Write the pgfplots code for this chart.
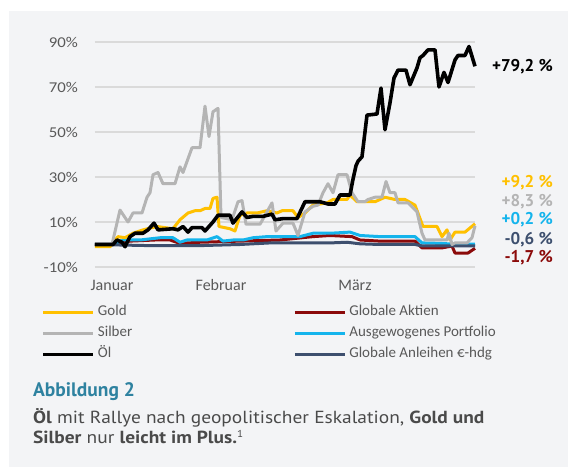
\documentclass[border=0pt]{standalone}
\usepackage{pgfplots}
\pgfplotsset{compat=1.18}
\usepackage{fontspec}
\setmainfont{Carlito}
\newfontfamily\tickfont[FakeStretch=1.12]{Carlito}
\newfontfamily\ptsans{PT Sans}
\newfontfamily\ptcap[FakeStretch=1.11]{PT Sans}
\definecolor{panel}{HTML}{F3F4F6}
\definecolor{gridc}{HTML}{DADADA}
\definecolor{tickc}{HTML}{595959}
\definecolor{cgold}{HTML}{FFC000}
\definecolor{csilver}{HTML}{B4B4B4}
\definecolor{caktien}{HTML}{8B0A0A}
\definecolor{cport}{HTML}{14B4EC}
\definecolor{canl}{HTML}{3D4F6E}
\definecolor{ctitle}{HTML}{2E82A0}
\definecolor{ctext}{HTML}{4A4A4A}
\begin{document}
\begin{tikzpicture}
\fill[white] (-95pt,267pt) rectangle (473pt,-203pt);
\fill[panel] (-86pt,256pt) rectangle (473pt,-200pt);
\begin{axis}[
  scale only axis, width=380pt, height=225pt,
  xmin=95, xmax=475, ymin=-10, ymax=90,
  clip=false,
  axis line style={draw=none},
  major tick style={draw=none},
  ytick={-10,10,30,50,70,90},
  yticklabels={-10\%,10\%,30\%,50\%,70\%,90\%},
  xtick={112,221,355},
  xticklabels={Januar,Februar,März},
  ymajorgrids, grid style={gridc, line width=1.5pt},
  tick label style={text=tickc},
  yticklabel style={anchor=east, inner sep=0pt, xshift=-17pt, font=\tickfont\fontsize{15}{18}\selectfont},
  xticklabel style={anchor=base, inner sep=0pt, yshift=-24pt, font=\fontsize{16}{18}\selectfont},
  legend columns=2,
  legend style={draw=none, fill=none, at={(axis description cs:-0.1395,-0.158)}, anchor=north west,
    inner sep=0pt, outer sep=0pt, font=\fontsize{15}{17}\selectfont, text=tickc,
    row sep=2pt,
    nodes={inner sep=2pt, text height=11pt, text depth=4pt},
    /tikz/every even column/.append style={column sep=159pt},
    /tikz/every odd column/.append style={column sep=1pt}},
  legend cell align=left,
  legend image code/.code={\draw[#1] (0pt,0pt) -- (50pt,0pt);},
  every axis plot/.append style={line width=3pt, line join=round},
]
\addlegendimage{cgold, line width=3pt}
\addlegendentry{Gold}
\addlegendimage{caktien, line width=3pt}
\addlegendentry{Globale Aktien}
\addlegendimage{csilver, line width=3pt}
\addlegendentry{Silber}
\addlegendimage{cport, line width=3pt}
\addlegendentry{Ausgewogenes Portfolio}
\addlegendimage{black, line width=3pt}
\addlegendentry{Öl}
\addlegendimage{canl, line width=3pt}
\addlegendentry{Globale Anleihen €-hdg}

% Globale Aktien
\addplot[caktien, forget plot] coordinates {
(95,0) (113,0) (130,1.5) (155,2) (170,2) (180,0.5) (200,1) (240,1.5) (280,2)
(313,3.5) (330,4) (352,3.5) (360,2) (380,1.5) (415,1.5) (422,-1.5) (442,-1.5)
(452,-0.7) (455,-3.8) (468,-3.8) (475,-1.7)};
% Ausgewogenes Portfolio
\addplot[cport, forget plot] coordinates {
(95,0) (113,0) (123,2) (140,2) (160,3) (173,3) (180,1) (187,2) (207,2) (217,3.5)
(223,1.5) (233,2) (243,2) (253,3) (267,3.5) (300,3.5) (313,5) (330,5) (350,5.5)
(360,4) (380,3.5) (415,3.5) (422,0.7) (440,0.5) (460,0) (475,0.2)};
% Globale Anleihen
\addplot[canl, forget plot] coordinates {
(95,0) (150,-0.5) (200,-0.5) (240,0) (270,0.7) (330,0.7) (347,1) (360,0.3)
(380,0) (415,0) (422,-0.6) (475,-0.6)};
% Gold
\addplot[cgold, forget plot] coordinates {
(95,-1) (110,-1) (118,3.5) (125,3) (133,5) (143,6.5) (157,8) (173,7) (180,11)
(188,14) (195,15) (200,15) (205,16) (210,16) (213,20.5) (217,21) (219,8) (230,7)
(235,6) (240,13) (247,14) (257,14) (267,15) (277,14) (282,15) (293,15) (298,12)
(305,14) (313,17.5) (327,18.5) (333,20) (347,20) (350,22) (357,19) (375,19)
(385,21) (395,20) (405,20) (415,17.5) (423,8) (437,8) (442,3.5) (447,6.5)
(450,2) (455,5.5) (465,5.5) (475,9.2)};
% Silber
\addplot[csilver, forget plot] coordinates {
(95,0) (112,0) (120,15.3) (128,10) (133,14) (142,14) (147,21) (150,23) (153,31)
(158,32) (163,27) (175,27) (180,34.5) (183,32) (192,43) (200,43) (205,61.5)
(209,48) (213,59) (218,60.5) (221,12) (232,11) (238,19) (242,19.5) (246,9)
(260,9) (267,14.5) (272,18.5) (276,6) (283,9.5) (293,9.5) (298,4) (305,14.5)
(313,17) (318,17.5) (323,23) (328,27) (333,23) (338,31) (347,31) (352,23)
(358,19) (365,19) (368,20) (375,21) (382,21) (386,28) (390,23) (395,23)
(398,18.5) (408,18.5) (417,14.5) (422,5) (425,2) (447,2) (449,5) (452,0)
(455,0.7) (467,0.7) (472,3) (475,8.3)};
% Öl
\addplot[black, line width=3.6pt, forget plot] coordinates {
(95,0) (113,0) (117,2) (122,1) (125,-1) (130,3.5) (135,5) (143,5) (148,6.5)
(154,9.5) (158,6.5) (173,7) (178,6.5) (183,8) (188,5.5) (192,7.5) (202,7.5)
(205,6) (213,10) (218,13) (230,13) (233,9.5) (242,14.5) (247,12) (253,12.5)
(263,12.5) (272,13.5) (275,11) (283,11.5) (297,11.5) (305,19) (320,19) (328,18)
(335,18) (340,22) (350,22) (353,29) (356,35) (358,37) (362,39) (367,57.5)
(377,58) (381,69.5) (385,51) (390,63) (394,74) (398,77.5) (406,77.5) (410,71)
(417,78.5) (420,83) (423,84) (428,86.5) (435,86.5) (439,70) (444,76.5) (448,72)
(455,82) (458,84) (465,84) (469,88) (475,79.2)};

\begin{scope}[every node/.style={anchor=east, inner sep=0pt, font=\ptsans\bfseries\fontsize{17}{20}\selectfont}]
\node[text=black] at (axis cs:553,78.9) {+79,2 \%};
\node[text=cgold] at (axis cs:553,27.3) {+9,2 \%};
\node[text=csilver] at (axis cs:553,18.9) {+8,3 \%};
\node[text=cport] at (axis cs:553,10.9) {+0,2 \%};
\node[text=canl] at (axis cs:553,2.0) {-0,6 \%};
\node[text=caktien] at (axis cs:553,-6.0) {-1,7 \%};
\end{scope}
\end{axis}
\node[anchor=base west, inner sep=0pt, text=ctitle, font=\ptsans\bfseries\fontsize{19.5}{22}\selectfont] at (-62pt,-130pt) {Abbildung 2};
\node[anchor=base west, inner sep=0pt, text=ctext, font=\ptcap\fontsize{17.5}{20}\selectfont] at (-62pt,-157pt) {\textbf{Öl} mit Rallye nach geopolitischer Eskalation, \textbf{Gold und}};
\node[anchor=base west, inner sep=0pt, text=ctext, font=\ptcap\fontsize{17.5}{20}\selectfont] at (-62pt,-177pt) {\textbf{Silber} nur \textbf{leicht im Plus.}\textsuperscript{\fontsize{10}{12}\selectfont 1}};
\end{tikzpicture}
\end{document}
